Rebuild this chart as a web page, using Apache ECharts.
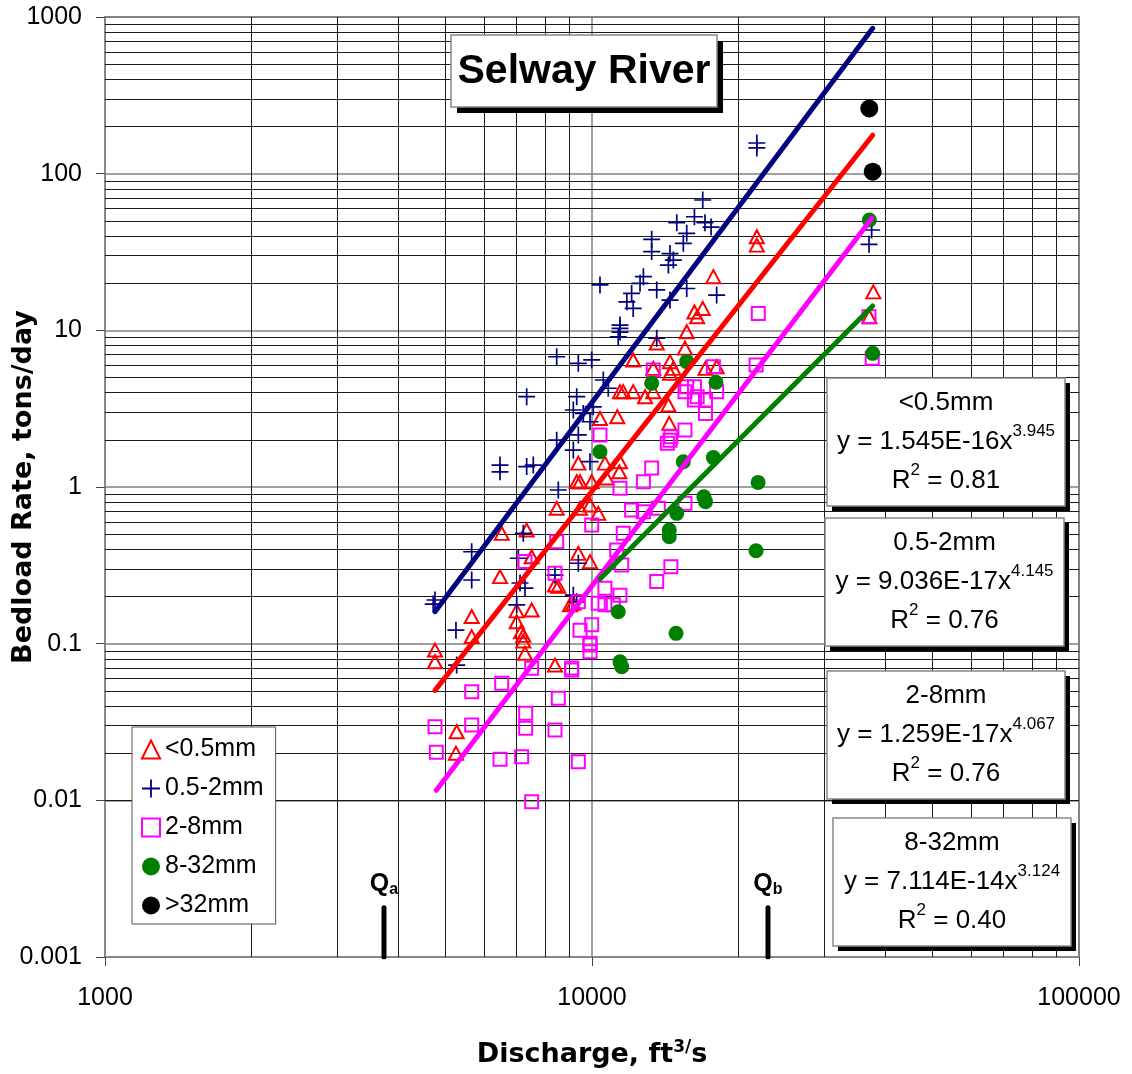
<!DOCTYPE html>
<html><head><meta charset="utf-8">
<script src="https://cdn.jsdelivr.net/npm/echarts@6/dist/echarts.min.js"></script>
<style>html,body{margin:0;padding:0;background:#fff}#c{width:1132px;height:1074px}</style>
</head><body><div id="c"></div><script>
const FONT = "'Liberation Sans', Arial, sans-serif";
const TFONT = "'DejaVu Sans', 'Liberation Sans', Arial, sans-serif";
const yTickLabels = ['0.001','0.01','0.1','1','10','100','1000'];
const seriesNames = ['<0.5mm','0.5-2mm','2-8mm','8-32mm','>32mm'];

// [discharge ft3/s, bedload tons/day]
const pts_lt05 = [[21800,39.6],[21800,35.0],[17750,22.0],[16230,13.1],[16440,12.2],[16880,13.8],[15650,9.8],[13580,8.3],[15520,7.7],[37810,17.6],[37110,12.2],[12150,6.47],[13360,5.72],[14460,6.31],[14690,5.72],[17100,5.72],[18030,5.86],[14460,5.32],[11415,4.06],[11590,4.06],[12150,4.06],[12850,3.77],[13360,4.06],[14350,3.34],[10385,2.74],[11270,2.81],[14410,2.55],[9374,1.42],[10630,1.42],[11415,1.45],[11380,1.25],[9303,1.08],[9449,1.08],[9986,1.08],[10720,1.14],[8463,0.731],[9449,0.731],[9906,0.767],[10300,0.679],[6526,0.506],[7343,0.531],[9374,0.377],[9906,0.334],[7518,0.359],[6473,0.268],[8395,0.237],[8527,0.232],[9155,0.181],[9012,0.177],[7005,0.162],[7518,0.164],[7005,0.138],[7150,0.119],[7226,0.113],[7226,0.104],[7284,0.0868],[5662,0.149],[5662,0.111],[4760,0.091],[4760,0.0767],[8395,0.073],[5274,0.0274],[5256,0.020]];
const pts_05_2 = [[21800,157],[21800,146],[16880,67.9],[14930,48.6],[16230,53.1],[17060,48.6],[17560,45.6],[15650,41.6],[15400,35.9],[13260,38.1],[13260,31.8],[14460,30.9],[14690,28.1],[14350,26.1],[12750,22.0],[12550,19.95],[10385,19.5],[13580,18.1],[12060,17.2],[11790,15.2],[12150,13.8],[14460,15.6],[15650,18.5],[18030,16.8],[11415,10.8],[11415,10.3],[11415,9.75],[11320,9.1],[13580,8.9],[8463,6.78],[9374,6.16],[9986,6.47],[10550,4.82],[10800,4.27],[7343,3.77],[9303,3.77],[9155,3.10],[10060,3.25],[9597,2.95],[9906,2.61],[9374,2.15],[8463,1.99],[9155,1.72],[9906,1.45],[6473,1.38],[6473,1.25],[7343,1.35],[7576,1.38],[8527,0.957],[7226,0.506],[5662,0.386],[7058,0.351],[9374,0.326],[5662,0.255],[4760,0.19],[4720,0.179],[8395,0.274],[7284,0.226],[7115,0.244],[7005,0.177],[9155,0.204],[9303,0.185],[5256,0.122],[5274,0.073],[37520,43.7],[37050,35.4]];
const pts_2_8 = [[21950,12.8],[37050,12.2],[37620,6.63],[21720,6.0],[13360,5.58],[17750,5.86],[15650,4.37],[16230,4.37],[15520,4.06],[16440,3.77],[18030,4.06],[16230,3.59],[17100,3.59],[17100,2.95],[10385,2.15],[15520,2.31],[14460,1.99],[14520,2.09],[14280,1.90],[13260,1.32],[12750,1.08],[11415,0.981],[15520,0.787],[12060,0.713],[12750,0.695],[13680,0.731],[9986,0.572],[11590,0.506],[11240,0.396],[11510,0.318],[8463,0.447],[7284,0.334],[8395,0.281],[14520,0.31],[13580,0.249],[10630,0.226],[11415,0.204],[9374,0.185],[10300,0.181],[10630,0.177],[11060,0.177],[9449,0.122],[9986,0.132],[9906,0.1005],[9906,0.098],[9906,0.0889],[9085,0.0679],[9085,0.070],[7518,0.0696],[6526,0.0558],[5662,0.0494],[8527,0.0448],[7309,0.0359],[7309,0.0288],[5662,0.0303],[4760,0.0295],[8395,0.0281],[4790,0.0203],[6473,0.0183],[7171,0.019],[9374,0.0176],[7518,0.0098]];
const pts_8_32 = [[37110,50.6],[37700,7.13],[17970,4.66],[17750,1.54],[21930,1.07],[21720,0.392],[15650,6.31],[13260,4.59],[10385,1.68],[15400,1.45],[16970,0.867],[17100,0.806],[14930,0.679],[14410,0.531],[14410,0.482],[11320,0.16],[14880,0.1164],[11415,0.0767],[11510,0.0713]];
const pts_gt32 = [[37100,261],[37700,103]];

// power-law trend lines, endpoints
const trend_lt05 = [[4760,0.0503],[37700,176]];
const trend_05_2 = [[4760,0.16],[37700,847]];
const trend_2_8 = [[4790,0.0116],[37560,51.9]];
const trend_8_32 = [[10385,0.259],[37700,14.3]];

// regression boxes
const eqNames = ['<0.5mm','0.5-2mm','2-8mm','8-32mm'];
const eqCoef = ['1.545E-16','9.036E-17','1.259E-17','7.114E-14'];
const eqExp = ['3.945','4.145','4.067','3.124'];
const eqR2 = ['0.81','0.76','0.76','0.40'];

// Qa / Qb discharge markers
const qSubs = ['a','b'];
const qValues = [3740, 22980];
const qBottom = 0.001, qTop = 0.00206;

const titleText = 'Selway River';

// minor log grid values (2..9 per decade)
const xMinor = [], yMinor = [];
[1000,10000].forEach(d => { for (let k=2;k<=9;k++) xMinor.push(k*d); });
[0.001,0.01,0.1,1,10,100].forEach(d => { for (let k=2;k<=9;k++) yMinor.push(+(k*d).toPrecision(3)); });

const crossPath = 'path://M9,0H11V9H20V11H11V20H9V11H0V9H9Z';

const chart = echarts.init(document.getElementById('c'), null, {renderer:'canvas'});

function scatter(name, data, symbol, size, itemStyle){
  return {type:'scatter', name, data, symbol, symbolSize:size, itemStyle:Object.assign({opacity:1}, itemStyle),
    silent:true, z:2, animation:false};
}
function trend(data, color){
  return {type:'line', data, showSymbol:false, silent:true, z:3, animation:false,
    lineStyle:{width:5, color, cap:'round'}};
}

const series = [
  {type:'scatter', data:[[5000,1]], symbolSize:0, silent:true, animation:false,
   markLine:{silent:true, z:1, animation:false, symbol:['none','none'], label:{show:false},
     lineStyle:{color:'#1a1a1a', width:1, type:'solid'},
     data:[...xMinor.map(v=>({xAxis:v})), ...yMinor.map(v=>({yAxis:v}))]}},
  scatter(seriesNames[0], pts_lt05, 'triangle', [14,13], {color:'rgba(255,255,255,0)', borderColor:'#ff0000', borderWidth:2}),
  scatter(seriesNames[1], pts_05_2, crossPath, 17, {color:'#000080'}),
  scatter(seriesNames[2], pts_2_8, 'rect', 13, {color:'rgba(255,255,255,0)', borderColor:'#ff00ff', borderWidth:2}),
  scatter(seriesNames[3], pts_8_32, 'circle', 15, {color:'#008000'}),
  scatter(seriesNames[4], pts_gt32, 'circle', 18, {color:'#000000'}),
  trend(trend_05_2, '#000080'),
  trend(trend_lt05, '#ff0000'),
  trend(trend_2_8, '#ff00ff'),
  trend(trend_8_32, '#008000')
];
qValues.forEach((q,i) => {
  series.push({type:'line', silent:true, z:3, animation:false, symbol:'circle', symbolSize:0, showSymbol:true,
    lineStyle:{width:5, color:'#000', cap:'round'},
    data:[[q,qBottom], {value:[q,qTop], label:{show:true, position:'top', distance:10,
      formatter:'{q|Q}{s|' + qSubs[i] + '}',
      rich:{q:{fontSize:25, fontWeight:'bold', fontFamily:FONT, color:'#000', lineHeight:28},
            s:{fontSize:16, fontWeight:'bold', fontFamily:FONT, color:'#000', lineHeight:14, verticalAlign:'bottom'}}}}]});
});

const eqBoxes = [
  {x:827, y:378, w:238, h:128},
  {x:825, y:518, w:239, h:128},
  {x:827, y:671, w:238, h:128},
  {x:833, y:818, w:238, h:128}
];
const ZG = 100;
const graphics = [];
graphics.push({type:'group', x:451, y:35, children:[
  {type:'rect', z:ZG, shape:{x:6,y:6,width:266,height:72}, style:{fill:'#000'}},
  {type:'rect', z:ZG+1, shape:{x:0,y:0,width:266,height:72}, style:{fill:'#fff', stroke:'#888', lineWidth:1.5}},
  {type:'text', z:ZG+2, style:{text:titleText, x:133, y:37, align:'center', verticalAlign:'middle',
    fontSize:41, fontWeight:'bold', fontFamily:FONT, fill:'#000'}}
]});
eqBoxes.forEach((b,i) => {
  graphics.push({type:'group', x:b.x, y:b.y, children:[
    {type:'rect', z:ZG, shape:{x:5,y:5,width:b.w,height:b.h}, style:{fill:'#000'}},
    {type:'rect', z:ZG+1, shape:{x:0,y:0,width:b.w,height:b.h}, style:{fill:'#fff', stroke:'#888', lineWidth:1.5}},
    {type:'text', z:ZG+2, style:{
      text:'{t|' + eqNames[i] + '}\n{t|y = ' + eqCoef[i] + 'x}{s|' + eqExp[i] + '}\n{t|R}{s|2}{t| = ' + eqR2[i] + '}',
      x:b.w/2, y:b.h/2, align:'center', verticalAlign:'middle',
      rich:{t:{fontSize:26, fontFamily:FONT, fill:'#000', color:'#000', lineHeight:39},
            s:{fontSize:17, fontFamily:FONT, fill:'#000', color:'#000', lineHeight:20, verticalAlign:'top'}}}}
  ]});
});

chart.setOption({
  animation:false,
  backgroundColor:'#fff',
  textStyle:{fontFamily:FONT},
  grid:{left:105, top:17, width:974, height:940, containLabel:false, outerBoundsMode:'none',
    show:true, borderColor:'#888', borderWidth:2, backgroundColor:'rgba(0,0,0,0)'},
  legend:{show:true, orient:'vertical', left:132, top:727, data:seriesNames,
    padding:[10,12,6,9], itemGap:14, itemWidth:18, itemHeight:18,
    backgroundColor:'#fff', borderColor:'#555', borderWidth:1,
    textStyle:{fontSize:25, fontFamily:FONT, color:'#000', lineHeight:25},
    selectedMode:false, z:10},
  xAxis:{type:'log', logBase:10, min:1000, max:100000,
    axisLine:{show:true, lineStyle:{color:'#888', width:2}},
    axisTick:{show:true, length:9, lineStyle:{color:'#444', width:1}},
    axisLabel:{margin:29, fontSize:25, fontFamily:FONT, color:'#000', showMinLabel:true, showMaxLabel:true,
      formatter:v => String(Math.round(v))},
    splitLine:{show:true, lineStyle:{color:'#808080', width:1.5}},
    name:'{b|Discharge, ft}{s|3/}{b|s}', nameLocation:'middle', nameGap:82, nameMoveOverlap:false,
    nameTextStyle:{rich:{b:{fontSize:27, fontWeight:'bold', fontFamily:TFONT, color:'#000', lineHeight:32},
                         s:{fontSize:17, fontWeight:'bold', fontFamily:TFONT, color:'#000', lineHeight:18, verticalAlign:'top'}}}},
  yAxis:{type:'log', logBase:10, min:0.001, max:1000,
    axisLine:{show:true, lineStyle:{color:'#888', width:2}},
    axisTick:{show:true, length:9, lineStyle:{color:'#444', width:1}},
    axisLabel:{margin:23, fontSize:25, fontFamily:FONT, color:'#000', showMinLabel:true, showMaxLabel:true,
      formatter:v => yTickLabels[Math.round(Math.log10(v)) + 3]},
    splitLine:{show:true, lineStyle:{color:'#808080', width:1.5}},
    name:'Bedload Rate, tons/day', nameLocation:'middle', nameGap:68, nameMoveOverlap:false,
    nameTextStyle:{fontSize:27, fontWeight:'bold', fontFamily:TFONT, color:'#000'}},
  graphic:{elements:graphics},
  series
});
</script></body></html>
